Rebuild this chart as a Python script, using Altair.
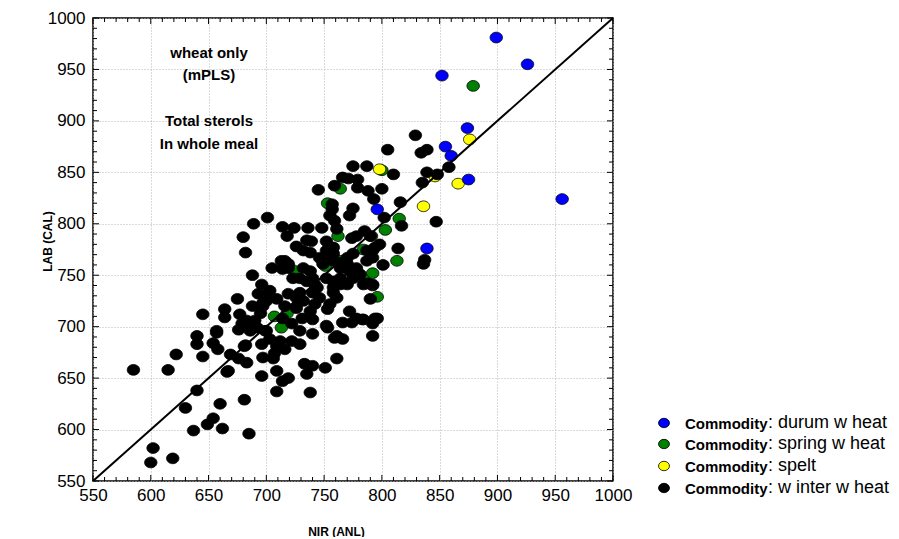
import altair as alt
import pandas as pd

# ---------------- data ----------------
winter_x = [829,805,834,839,775,787,810,839,848,858,835,766,771,779,759,745,779,788,800,793,816,757,775,772,757,755,802,847,701,689,714,724,736,748,759,761,785,790,718,774,778,817,814,837,836,801,788,680,682,705,688,696,
            726,732,738,739,735,794,798,716,719,764,770,752,758,787,792,
            713,719,714,732,738,729,735,740,742,749,746,752,758,758,764,770,775,752,758,764,772,778,781,775,770,787,792,787,792,752,
            699,703,723,764,729,740,758,784,792,790,688,664,664,677,695,697,714,722,729,738,740,731,753,752,772,778,784,766,774,794,792,792,645,657,679,676,686,692,699,681,654,658,645,669,676,683,696,697,707,706,712,716,722,729,740,753,761,766,759,761,733,740,735,751,667,696,709,719,714,709,738,660,681,654,783,796,675,687,697,
            693,700,709,716,719,726,732,726,744,746,742,758,761,755,766,690,683,700,703,709,
            585,615,622,640,640,657,666,682,640,630,649,662,637,685,602,600,619]
winter_y = [886,872,869,872,856,856,848,850,848,855,840,845,844,843,837,833,835,832,834,824,821,819,815,808,814,808,806,802,806,800,797,796,796,796,803,795,793,788,788,786,788,798,776,765,761,760,742,787,772,757,750,741,
            778,774,772,783,784,777,780,764,757,762,761,767,771,764,767,
            764,761,756,757,754,747,744,747,741,761,767,774,777,764,757,767,771,747,744,741,754,757,751,747,741,774,774,742,741,783,
            730,735,747,747,733,733,733,741,740,727,720,717,709,712,713,720,708,703,696,715,707,708,717,701,715,708,707,704,704,708,703,691,712,696,703,697,696,699,696,681,684,678,671,673,669,665,683,670,674,669,686,678,686,683,693,699,691,688,689,669,664,662,654,660,657,652,657,650,647,637,636,625,629,611,707,708,727,699,723,
            732,725,727,720,732,728,725,718,738,728,722,738,728,722,742,706,706,696,688,681,
            658,658,673,691,683,694,656,682,638,621,605,601,599,596,582,568,572]

spring_x = [879,764,753,762,815,813,792,796,723,707,784,784,791,803,713,718,751,764,800]
spring_y = [934,834,820,788,805,764,752,729,755,710,775,746,788,794,699,713,759,764,852]

spelt_x = [798,876,866,836,846]
spelt_y = [853,882,839,817,846]

durum_x = [899,926,852,874,855,860,875,796,839,956]
durum_y = [981,955,944,893,875,866,843,814,776,824]

categories = ["durum w heat", "spring w heat", "spelt", "w inter w heat"]
colors = ["#0000FF", "#008000", "#FFFF00", "#000000"]

axis_values = [550, 600, 650, 700, 750, 800, 850, 900, 950, 1000]
minor_values = [v for v in range(550, 1001, 10) if v % 50 != 0]

notes = ["wheat only", "(mPLS)", "Total sterols", "In whole meal"]
diag = [550, 1000]

# ---------------- frames ----------------
order = [("spring w heat", spring_x, spring_y), ("spelt", spelt_x, spelt_y),
         ("w inter w heat", winter_x, winter_y), ("durum w heat", durum_x, durum_y)]
rows = []
for name, xs, ys in order:
    for a, b in zip(xs, ys):
        rows.append({"nir": a, "lab": b, "cat": name})
df = pd.DataFrame(rows)

W, H = 520, 463
FONT = "Liberation Sans"
dom = [550, 1000]
xs_ = alt.Scale(domain=dom, nice=False, zero=False)
ys_ = alt.Scale(domain=dom, nice=False, zero=False)

ellipse = "M -1 0 A 1 0.86 0 1 1 1 0 A 1 0.86 0 1 1 -1 0 Z"

points = alt.Chart(df).mark_point(filled=True, shape=ellipse, size=155, stroke="black",
                                  strokeWidth=0.8, opacity=1).encode(
    x=alt.X("nir:Q", scale=xs_, axis=alt.Axis(
        title="NIR (ANL)", values=axis_values, format="d", ticks=False, domain=False, grid=True,
        gridDash=[1, 2], gridColor="#b5b5b5", gridWidth=1, labelFont=FONT, labelFontSize=17,
        labelColor="black", labelPadding=6, titleFont=FONT, titleFontSize=12,
        titleFontWeight="bold", titleColor="black", titleX=243, titleY=50,
        titleBaseline="middle", labelFlush=False)),
    y=alt.Y("lab:Q", scale=ys_, axis=alt.Axis(
        title="LAB (CAL)", values=axis_values, format="d", ticks=False, domain=False, grid=True,
        gridDash=[1, 2], gridColor="#b5b5b5", gridWidth=1, labelFont=FONT, labelFontSize=17,
        labelColor="black", labelPadding=8, titleFont=FONT, titleFontSize=12,
        titleFontWeight="bold", titleColor="black", titleX=-46, titleY=223,
        titleBaseline="middle", labelFlush=False)),
    color=alt.Color("cat:N", scale=alt.Scale(domain=categories, range=colors), legend=None),
)

line_df = pd.DataFrame({"nir": diag, "lab": diag})
line = alt.Chart(line_df).mark_line(color="black", strokeWidth=2).encode(
    x=alt.X("nir:Q", scale=xs_), y=alt.Y("lab:Q", scale=ys_))

# inward ticks on all four sides
maj = pd.DataFrame({"v": axis_values})
mnr = pd.DataFrame({"v": minor_values})
tick_layers = []
for d, L in ((maj, 6), (mnr, 4)):
    tick_layers.append(alt.Chart(d).mark_rule(color="black", strokeWidth=1).encode(
        x=alt.X("v:Q", scale=xs_), y=alt.value(H), y2=alt.value(H - L)))
    tick_layers.append(alt.Chart(d).mark_rule(color="black", strokeWidth=1).encode(
        x=alt.X("v:Q", scale=xs_), y=alt.value(0), y2=alt.value(L)))
    tick_layers.append(alt.Chart(d).mark_rule(color="black", strokeWidth=1).encode(
        y=alt.Y("v:Q", scale=ys_), x=alt.value(0), x2=alt.value(L)))
    tick_layers.append(alt.Chart(d).mark_rule(color="black", strokeWidth=1).encode(
        y=alt.Y("v:Q", scale=ys_), x=alt.value(W), x2=alt.value(W - L)))

# annotations
note_y = [35, 57, 103, 126]
note_layers = []
for t, yy in zip(notes, note_y):
    note_layers.append(alt.Chart(pd.DataFrame({"t": [t]})).mark_text(
        font=FONT, fontSize=15, fontWeight="bold", color="black", align="center",
        baseline="middle").encode(text="t:N", x=alt.value(116), y=alt.value(yy)))

# manual legend
leg_y = [405, 426, 448, 470]
leg_layers = []
for cat, col, yy in zip(categories, colors, leg_y):
    d = pd.DataFrame({"cat": [cat], "lab": [": " + cat], "b": ["Commodity"]})
    leg_layers.append(alt.Chart(d).mark_point(filled=True, shape=ellipse, size=120, fill=col,
                                              stroke="black", strokeWidth=0.8, opacity=1).encode(
        x=alt.value(571), y=alt.value(yy)))
    leg_layers.append(alt.Chart(d).mark_text(font=FONT, fontSize=15, fontWeight="bold",
                                             color="black", align="left", baseline="middle").encode(
        text="b:N", x=alt.value(592), y=alt.value(yy + 1)))
    leg_layers.append(alt.Chart(d).mark_text(font=FONT, fontSize=18, color="black",
                                             align="left", baseline="middle").encode(
        text="lab:N", x=alt.value(675), y=alt.value(yy)))

chart = alt.layer(points, line, *tick_layers, *note_layers, *leg_layers).properties(
    width=W, height=H, padding={"left": 33, "top": 1, "right": 0, "bottom": 0},
    background="white",
).configure_view(stroke="black", strokeWidth=1.5)

chart.save("out.html", embed_options={"renderer": "svg", "actions": False})
